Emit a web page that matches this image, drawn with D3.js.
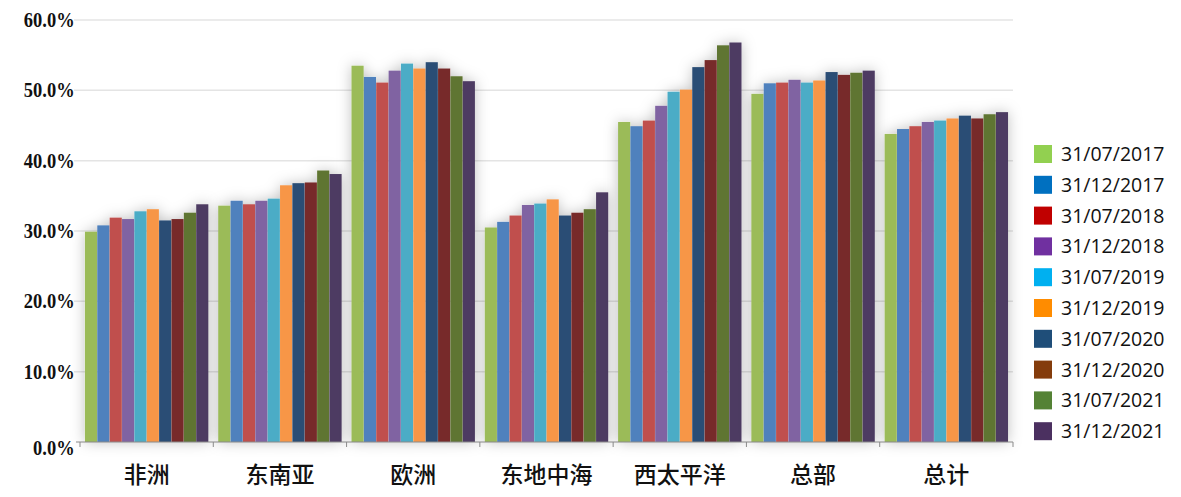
<!DOCTYPE html>
<html>
<head>
<meta charset="utf-8">
<script src="https://cdn.jsdelivr.net/npm/d3@7"></script>
<style>
  html, body { margin: 0; padding: 0; background: #fff; }
  svg { display: block; }
</style>
</head>
<body>
<svg id="chart" width="1181" height="497"></svg>
<script>
// --- DATA ---
const regions = ["非洲", "东南亚", "欧洲", "东地中海", "西太平洋", "总部", "总计"];
const dates = ["31/07/2017", "31/12/2017", "31/07/2018", "31/12/2018", "31/07/2019",
               "31/12/2019", "31/07/2020", "31/12/2020", "31/07/2021", "31/12/2021"];
// one array per region, values in % in the order of dates
const africa   = [29.9, 30.8, 31.9, 31.7, 32.8, 33.1, 31.5, 31.7, 32.6, 33.8];
const seAsia   = [33.6, 34.3, 33.8, 34.3, 34.6, 36.5, 36.8, 36.9, 38.6, 38.1];
const europe   = [53.5, 51.9, 51.1, 52.8, 53.8, 53.1, 54.0, 53.1, 52.0, 51.3];
const eastMed  = [30.5, 31.3, 32.2, 33.7, 33.9, 34.5, 32.2, 32.6, 33.1, 35.5];
const westPac  = [45.5, 44.9, 45.7, 47.8, 49.8, 50.1, 53.3, 54.3, 56.4, 56.8];
const hq       = [49.5, 51.0, 51.1, 51.5, 51.1, 51.4, 52.6, 52.2, 52.5, 52.8];
const total    = [43.8, 44.5, 44.9, 45.5, 45.7, 46.0, 46.4, 46.0, 46.6, 46.9];
const seriesByRegion = [africa, seAsia, europe, eastMed, westPac, hq, total];
const yTicks = [0, 10, 20, 30, 40, 50, 60];

// bar fills (theme colours) and the legend's own swatch colours
const barColors = ["#9bbb59", "#4f81bd", "#c0504d", "#8064a2", "#4bacc6",
                   "#f79646", "#2c4d75", "#772c2a", "#5f7530", "#4d3b62"];
const legendColors = ["#92d050", "#0070c0", "#c00000", "#7030a0", "#00b0f0",
                      "#ff8c00", "#1f4e79", "#843c0c", "#548235", "#4b3060"];

// --- SETUP ---
const width = 1181, height = 497;
const margin = { top: 20, right: 168, bottom: 55, left: 80 };
const svg = d3.select("#chart");

const x0 = d3.scaleBand()
    .domain(regions)
    .range([margin.left, width - margin.right])
    .paddingInner(0)
    .paddingOuter(0);

const x1 = d3.scaleBand()
    .domain(dates)
    .range([0, x0.bandwidth()])
    .paddingInner(0.02)
    .paddingOuter(0.4);

const y = d3.scaleLinear()
    .domain([0, 60])
    .range([height - margin.bottom, margin.top]);

const defs = svg.append("defs");
const shadow = defs.append("filter").attr("id", "haze")
    .attr("x", "-20%").attr("y", "-20%").attr("width", "140%").attr("height", "140%");
shadow.append("feDropShadow")
    .attr("dx", 0).attr("dy", 0)
    .attr("stdDeviation", 7)
    .attr("flood-color", "#000")
    .attr("flood-opacity", 0.25);

// --- GRIDLINES ---
svg.append("g")
    .selectAll("line")
    .data(yTicks.filter(d => d > 0))
    .join("line")
    .attr("x1", margin.left - 6)
    .attr("x2", width - margin.right)
    .attr("y1", d => y(d))
    .attr("y2", d => y(d))
    .attr("stroke", "#e4e4e4")
    .attr("stroke-width", 1.5);

// --- BARS ---
const groups = svg.append("g")
    .selectAll("g")
    .data(regions)
    .join("g")
    .attr("transform", d => `translate(${x0(d)},0)`)
    .attr("filter", "url(#haze)");

groups.selectAll("rect")
    .data((r, i) => seriesByRegion[i].map((v, j) => ({ date: dates[j], value: v, k: j })))
    .join("rect")
    .attr("x", d => x1(d.date))
    .attr("y", d => y(d.value))
    .attr("width", x1.bandwidth())
    .attr("height", d => y(0) - y(d.value))
    .attr("fill", d => barColors[d.k]);

// --- AXES ---
const yAxis = svg.append("g")
    .attr("transform", `translate(${margin.left},0)`)
    .call(d3.axisLeft(y).tickValues(yTicks).tickFormat(d => d.toFixed(1) + "%").tickSize(0).tickPadding(6));
yAxis.select(".domain").remove();
// labels are a bit narrow in the original, so squeeze them horizontally
yAxis.selectAll("text")
    .attr("font-family", "'Liberation Serif', 'Times New Roman', serif")
    .attr("font-weight", "bold")
    .attr("font-size", "20.5px")
    .attr("fill", "#111")
    .attr("transform", "scale(0.9,1)");
yAxis.selectAll(".tick").filter(d => d === 0).select("text").attr("dy", "0.6em");

const xAxis = svg.append("g")
    .attr("transform", `translate(0,${y(0)})`);
xAxis.append("line")
    .attr("x1", margin.left - 4).attr("x2", width - margin.right)
    .attr("y1", 0).attr("y2", 0)
    .attr("stroke", "#8a8a8a").attr("stroke-width", 1.2);
const boundaries = regions.map(r => x0(r)).concat([x0(regions[regions.length - 1]) + x0.bandwidth()]);
xAxis.selectAll(".bound")
    .data(boundaries)
    .join("line")
    .attr("class", "bound")
    .attr("x1", d => d).attr("x2", d => d)
    .attr("y1", 0).attr("y2", 5)
    .attr("stroke", "#8a8a8a");
xAxis.selectAll(".cat")
    .data(regions)
    .join("text")
    .attr("class", "cat")
    .attr("x", d => x0(d) + x0.bandwidth() / 2)
    .attr("y", 41)
    .attr("text-anchor", "middle")
    .attr("font-family", "'Noto Sans CJK SC', sans-serif")
    .attr("font-weight", "500")
    .attr("font-size", "23px")
    .attr("fill", "#111")
    .text(d => d);

// --- LEGEND ---
const legend = svg.append("g").attr("transform", "translate(1034,145)");
const rowH = 30.8;
const item = legend.selectAll("g")
    .data(dates)
    .join("g")
    .attr("transform", (d, i) => `translate(0,${i * rowH})`);
item.append("rect")
    .attr("x", 0).attr("y", 0)
    .attr("width", 18).attr("height", 18)
    .attr("fill", (d, i) => legendColors[i]);
item.append("text")
    .attr("x", 27).attr("y", 9)
    .attr("dy", "0.36em")
    .attr("font-family", "'Open Sans', 'Liberation Sans', sans-serif")
    .attr("font-size", "19.5px")
    .attr("fill", "#111")
    .text(d => d);
</script>
</body>
</html>
